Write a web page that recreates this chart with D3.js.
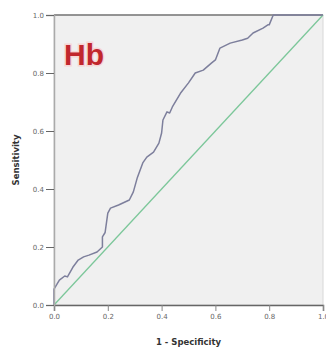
<!DOCTYPE html>
<html>
<head>
  <style>
    body { margin: 0; background: #fff; }
    .tick text { font-family: "DejaVu Sans", sans-serif; font-size: 7px; fill: #666; }
  </style>
</head>
<body>
  <svg id="chart"></svg>

  <script src="https://d3js.org/d3.v7.min.js"></script>
  <script>
    var width = 326;
    var height = 349;

    // ROC curve (1 - specificity, sensitivity)
    var fpr = [0, 0, 0.01, 0.02, 0.04, 0.05, 0.07, 0.09, 0.11, 0.13, 0.16, 0.18, 0.18, 0.19, 0.20, 0.21, 0.24, 0.28, 0.295, 0.31, 0.33, 0.345, 0.37, 0.39, 0.40, 0.405, 0.42, 0.43, 0.44, 0.47, 0.50, 0.525, 0.555, 0.585, 0.60, 0.617, 0.655, 0.70, 0.72, 0.74, 0.777, 0.795, 0.80, 0.815, 1.0];
    var tpr = [0, 0.055, 0.07, 0.086, 0.10, 0.097, 0.13, 0.155, 0.166, 0.172, 0.183, 0.20, 0.235, 0.25, 0.317, 0.334, 0.345, 0.362, 0.39, 0.44, 0.49, 0.51, 0.527, 0.558, 0.593, 0.638, 0.666, 0.662, 0.683, 0.73, 0.766, 0.80, 0.81, 0.834, 0.845, 0.886, 0.903, 0.914, 0.92, 0.938, 0.955, 0.966, 0.966, 1.0, 1.0];
    var refLine = [0, 1];
    var tickValues = [0, 0.2, 0.4, 0.6, 0.8, 1.0];

    var margin = { top: 15, right: 3, bottom: 44, left: 54 };
    var w = width - margin.left - margin.right;
    var h = height - margin.top - margin.bottom;

    var svg = d3.select("#chart")
      .attr("width", width)
      .attr("height", height);

    var x = d3.scaleLinear().domain([0, 1]).range([0, w]);
    var y = d3.scaleLinear().domain([0, 1]).range([h, 0]);

    var g = svg.append("g")
      .attr("transform", "translate(" + margin.left + "," + margin.top + ")");

    // plot background
    g.append("rect")
      .attr("width", w)
      .attr("height", h)
      .attr("fill", "#f0f0f0")
      .attr("stroke", "#d8d8d8");

    // top border
    g.append("line")
      .attr("x1", 0).attr("x2", w)
      .attr("y1", 0).attr("y2", 0)
      .attr("stroke", "#777")
      .attr("stroke-width", 1.5);

    // diagonal reference
    g.append("path")
      .datum(refLine)
      .attr("fill", "none")
      .attr("stroke", "#7cc79a")
      .attr("stroke-width", 1.3)
      .attr("d", d3.line().x(function(d) { return x(d); }).y(function(d) { return y(d); }));

    // ROC curve
    var pts = fpr.map(function(f, i) { return [f, tpr[i]]; });
    g.append("path")
      .datum(pts)
      .attr("fill", "none")
      .attr("stroke", "#7d7f9c")
      .attr("stroke-width", 1.5)
      .attr("stroke-linejoin", "round")
      .attr("d", d3.line().x(function(d) { return x(d[0]); }).y(function(d) { return y(d[1]); }));

    // axes
    var xAxis = g.append("g")
      .attr("transform", "translate(0," + h + ")")
      .call(d3.axisBottom(x).tickValues(tickValues).tickFormat(d3.format(".1f")).tickSize(6).tickPadding(3));
    xAxis.select(".domain").attr("stroke", "#666").attr("stroke-width", 1.5);
    xAxis.selectAll(".tick line").attr("stroke", "#888");

    var yAxis = g.append("g")
      .call(d3.axisLeft(y).tickValues(tickValues).tickFormat(d3.format(".1f")).tickSize(8).tickPadding(2));
    yAxis.select(".domain").attr("stroke", "#aaa").attr("stroke-width", 1.5);
    yAxis.selectAll(".tick line").attr("stroke", "#666");
    yAxis.selectAll(".tick text").attr("dy", "0.35em");

    // axis titles
    svg.append("text")
      .attr("x", margin.left + w / 2)
      .attr("y", 345)
      .attr("text-anchor", "middle")
      .style("font-family", "DejaVu Sans, sans-serif")
      .style("font-size", "8.5px")
      .style("font-weight", "bold")
      .style("fill", "#333")
      .text("1 - Specificity");

    svg.append("text")
      .attr("transform", "translate(19," + (margin.top + h / 2) + ") rotate(-90)")
      .attr("text-anchor", "middle")
      .style("font-family", "DejaVu Sans, sans-serif")
      .style("font-size", "8.5px")
      .style("font-weight", "bold")
      .style("fill", "#333")
      .text("Sensitivity");

    // label with a faint pink halo
    g.append("text")
      .attr("x", 10)
      .attr("y", 50)
      .style("font-family", "Liberation Sans, Arial, sans-serif")
      .style("font-size", "30px")
      .style("font-weight", "bold")
      .style("fill", "#c1272d")
      .style("stroke", "#f6d6d6")
      .style("stroke-width", 3)
      .style("paint-order", "stroke")
      .text("Hb");
  </script>
</body>
</html>
